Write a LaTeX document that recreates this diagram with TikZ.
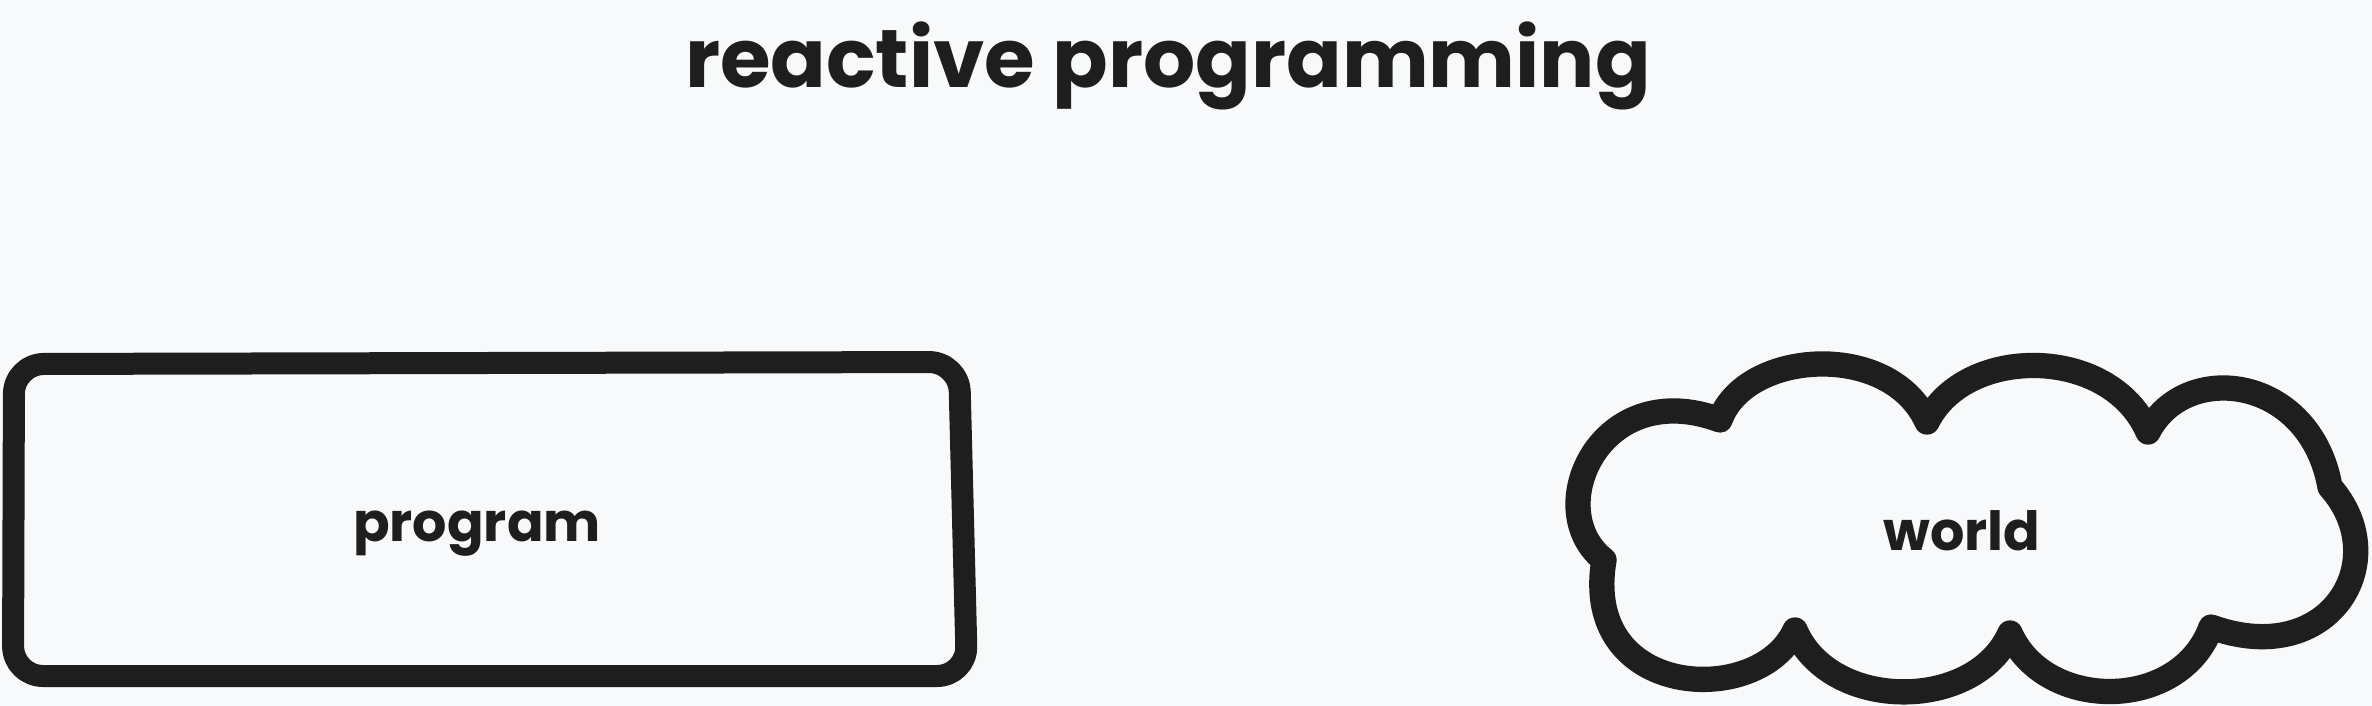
\documentclass[tikz,border=0pt]{standalone}
\usepackage{fontspec}
\setmainfont{Poppins}
\definecolor{ink}{HTML}{1E1E1E}
\definecolor{paper}{HTML}{F8F9FA}
\newlength{\lw}
\setlength{\lw}{11pt}
\tikzstyle{every picture}+=[x=0.5pt,y=-0.5pt]
\tikzstyle{every picture}+=[line join=round]
\tikzstyle{every picture}+=[line cap=round]
\tikzstyle{every picture}+=[line width=\lw]
\tikzstyle{sketchline}=[draw=ink]
\tikzstyle{cloudline}=[draw=ink,line width=1.15\lw]
\tikzstyle{handtext}=[text=ink,inner sep=0pt,anchor=base,font=\bfseries\fontsize{27}{32}\selectfont]
\tikzstyle{titletext}=[handtext,font=\bfseries\fontsize{41}{50}\selectfont]

\begin{document}
\begin{tikzpicture}
\fill[paper] (0,0) rectangle (2372,706);
\useasboundingbox (0,0) rectangle (2372,706);

\node[titletext] (title) at (1168,88) {reactive programming};

% program box
\draw[sketchline,rounded corners=15pt] (14,364) -- (959,362) -- (967,676) -- (13,676) -- cycle;
\node[handtext] (program) at (477,541) {program};

% world cloud
\draw[cloudline] (1604,560)
  .. controls (1540,510) and (1600,375) .. (1720,420)
  .. controls (1745,350) and (1890,340) .. (1927,422)
  .. controls (1965,345) and (2110,345) .. (2148,432)
  .. controls (2185,360) and (2310,375) .. (2330,487)
  .. controls (2395,560) and (2330,670) .. (2211,627)
  .. controls (2180,712) and (2045,712) .. (2010,633)
  .. controls (1975,712) and (1830,712) .. (1795,630)
  .. controls (1760,708) and (1580,700) .. (1604,560) -- cycle;
\node[handtext] (world) at (1962,550) {world};
\end{tikzpicture}
\end{document}
